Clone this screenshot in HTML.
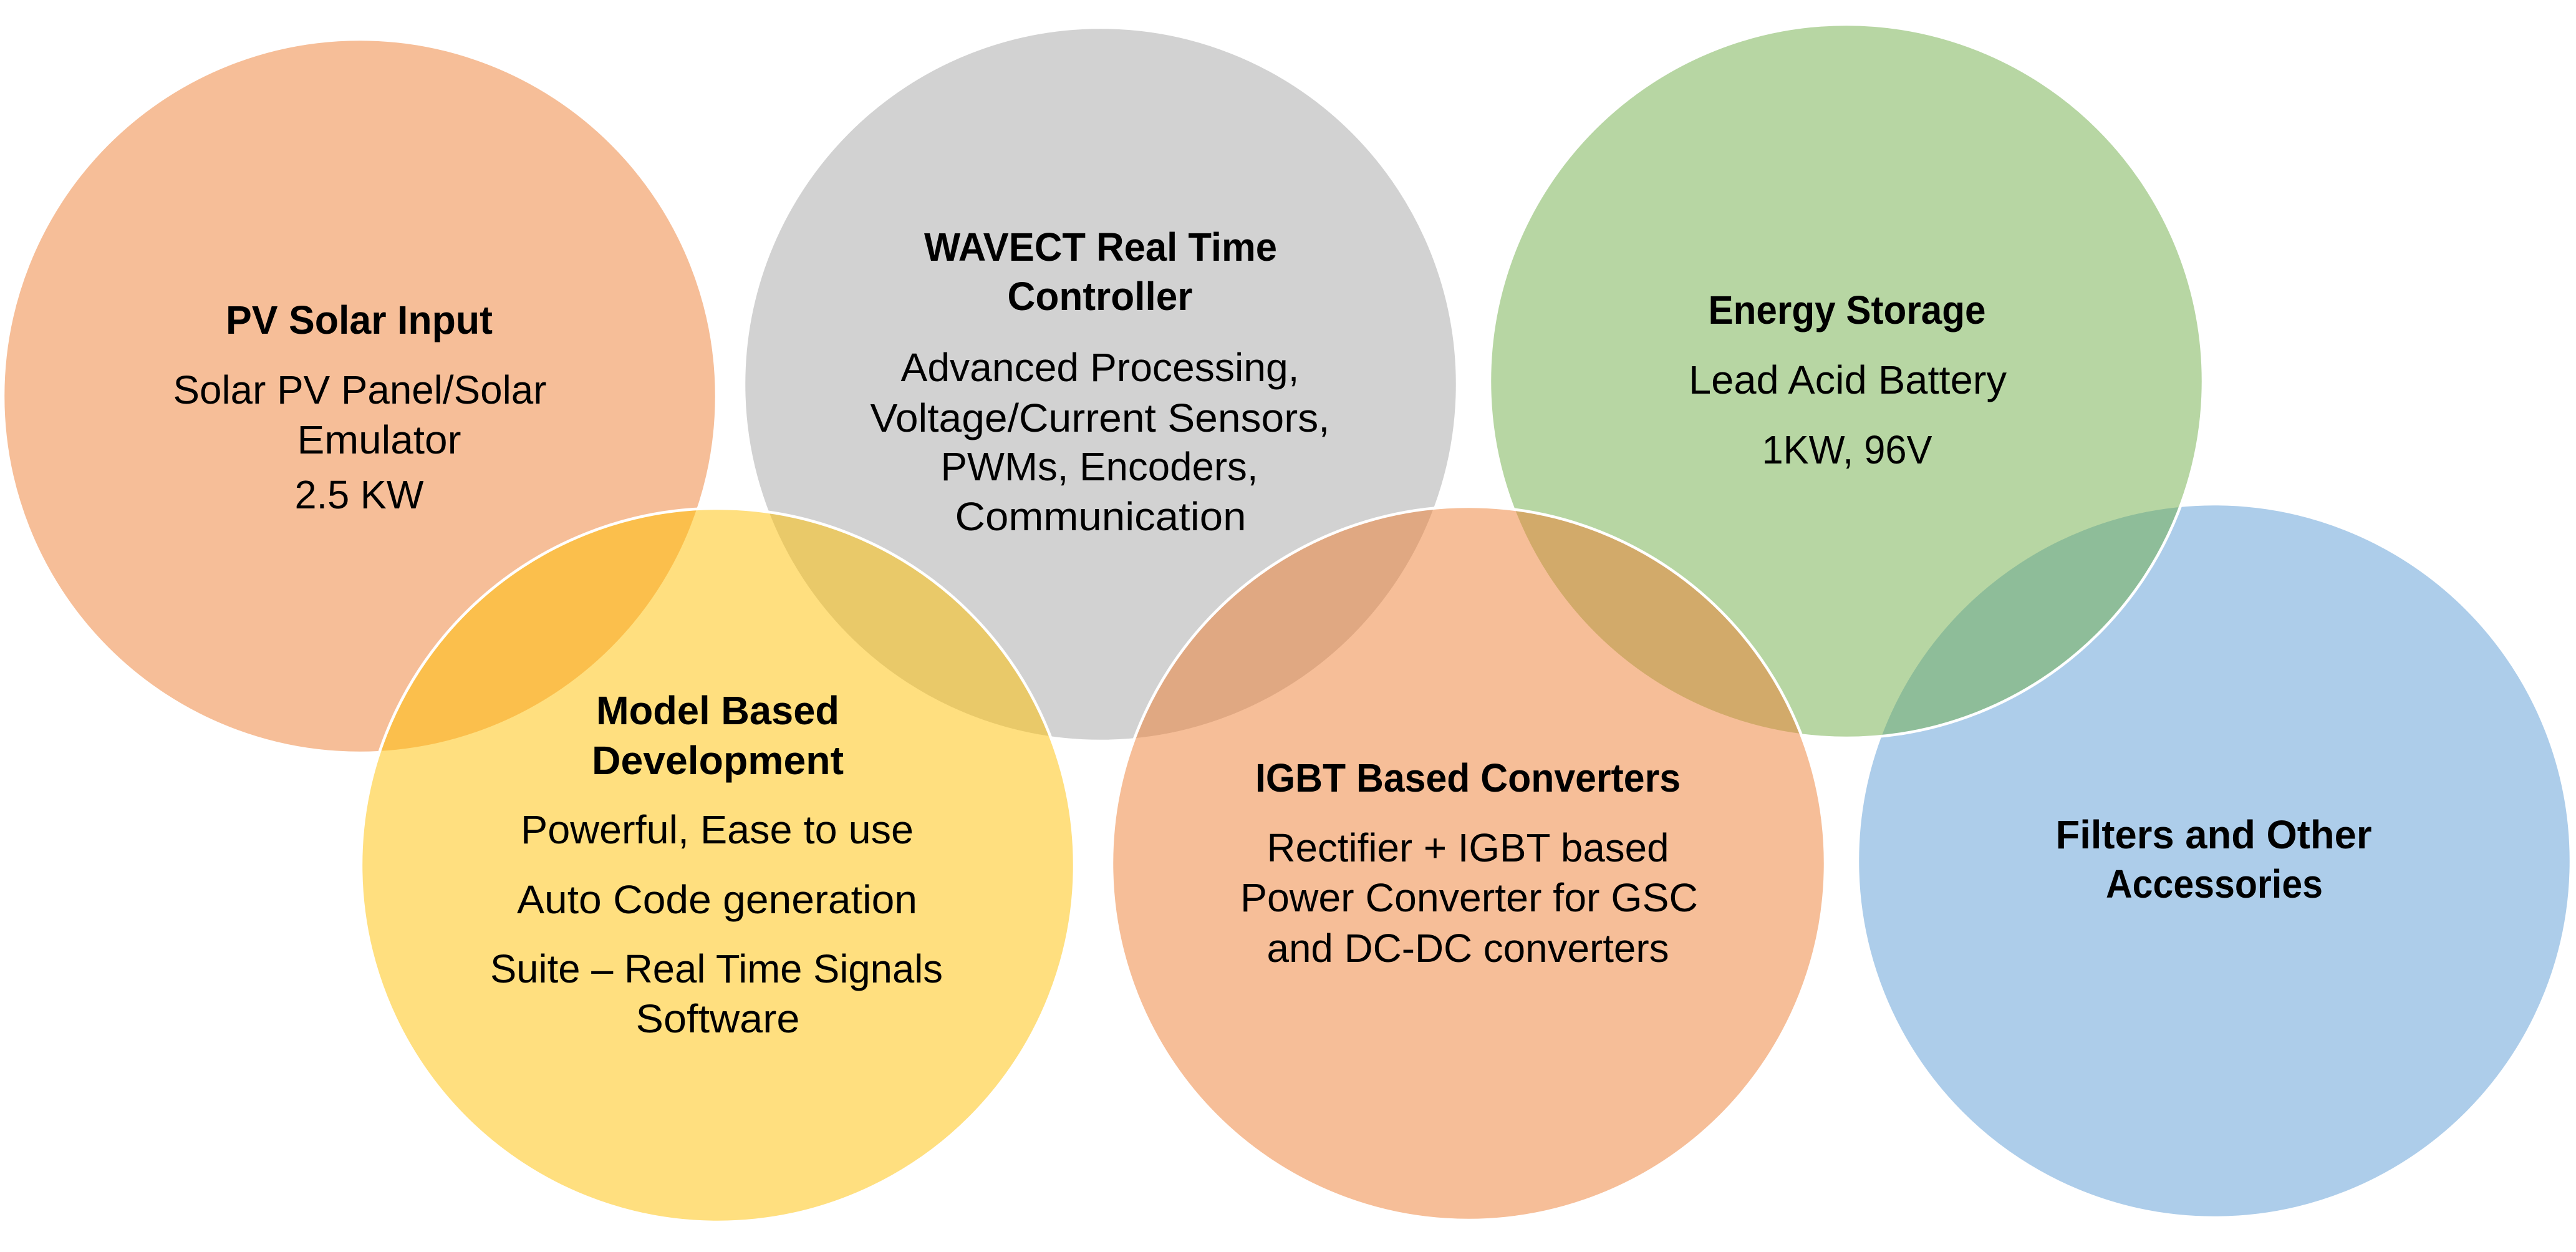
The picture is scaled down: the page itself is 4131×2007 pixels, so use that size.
<!DOCTYPE html>
<html>
<head>
<meta charset="utf-8">
<style>
  html, body { margin: 0; padding: 0; background: #ffffff; }
  svg { display: block; }
  text { font-family: "Liberation Sans", Arial, sans-serif; font-size: 64px; fill: #000000; }
  .b { font-weight: bold; }
</style>
</head>
<body>
<svg width="4131" height="2007" viewBox="0 0 4131 2007" xmlns="http://www.w3.org/2000/svg">
  <rect x="0" y="0" width="4131" height="2007" fill="#ffffff"/>
  <g stroke="#ffffff" stroke-width="4.5">
    <circle cx="3551" cy="1380" r="572" fill="#5B9BD5" fill-opacity="0.5"/>
    <circle cx="577" cy="635" r="572" fill="#ED7D31" fill-opacity="0.5"/>
    <circle cx="1765" cy="616" r="572" fill="#A5A5A5" fill-opacity="0.5"/>
    <circle cx="2961" cy="611" r="572" fill="#70AD47" fill-opacity="0.5"/>
    <circle cx="1151" cy="1387" r="572" fill="#FFC000" fill-opacity="0.5"/>
    <circle cx="2355" cy="1384" r="572" fill="#ED7D31" fill-opacity="0.5"/>
  </g>
  <g text-anchor="middle">
    <!-- PV Solar Input -->
    <text class="b" x="576" y="535" textLength="428" lengthAdjust="spacingAndGlyphs">PV Solar Input</text>
    <text x="577" y="647" textLength="599" lengthAdjust="spacingAndGlyphs">Solar PV Panel/Solar</text>
    <text x="608" y="727" textLength="263" lengthAdjust="spacingAndGlyphs">Emulator</text>
    <text x="576" y="815" textLength="207" lengthAdjust="spacingAndGlyphs">2.5 KW</text>

    <!-- WAVECT -->
    <text class="b" x="1765" y="418" textLength="566" lengthAdjust="spacingAndGlyphs">WAVECT Real Time</text>
    <text class="b" x="1764" y="497" textLength="297" lengthAdjust="spacingAndGlyphs">Controller</text>
    <text x="1764" y="611" textLength="639" lengthAdjust="spacingAndGlyphs">Advanced Processing,</text>
    <text x="1764" y="692" textLength="737" lengthAdjust="spacingAndGlyphs">Voltage/Current Sensors,</text>
    <text x="1763" y="770" textLength="509" lengthAdjust="spacingAndGlyphs">PWMs, Encoders,</text>
    <text x="1765" y="850" textLength="467" lengthAdjust="spacingAndGlyphs">Communication</text>

    <!-- Energy Storage -->
    <text class="b" x="2962" y="519" textLength="445" lengthAdjust="spacingAndGlyphs">Energy Storage</text>
    <text x="2963" y="631" textLength="510" lengthAdjust="spacingAndGlyphs">Lead Acid Battery</text>
    <text x="2962" y="743" textLength="273" lengthAdjust="spacingAndGlyphs">1KW, 96V</text>

    <!-- Model Based Development -->
    <text class="b" x="1151" y="1161" textLength="390" lengthAdjust="spacingAndGlyphs">Model Based</text>
    <text class="b" x="1151" y="1241" textLength="404" lengthAdjust="spacingAndGlyphs">Development</text>
    <text x="1150" y="1352" textLength="630" lengthAdjust="spacingAndGlyphs">Powerful, Ease to use</text>
    <text x="1150" y="1464" textLength="642" lengthAdjust="spacingAndGlyphs">Auto Code generation</text>
    <text x="1149" y="1575" textLength="726" lengthAdjust="spacingAndGlyphs">Suite – Real Time Signals</text>
    <text x="1151" y="1655" textLength="263" lengthAdjust="spacingAndGlyphs">Software</text>

    <!-- IGBT -->
    <text class="b" x="2354" y="1269" textLength="682" lengthAdjust="spacingAndGlyphs">IGBT Based Converters</text>
    <text x="2354" y="1381" textLength="645" lengthAdjust="spacingAndGlyphs">Rectifier + IGBT based</text>
    <text x="2356" y="1461" textLength="734" lengthAdjust="spacingAndGlyphs">Power Converter for GSC</text>
    <text x="2354" y="1542" textLength="645" lengthAdjust="spacingAndGlyphs">and DC-DC converters</text>

    <!-- Filters -->
    <text class="b" x="3550" y="1360" textLength="507" lengthAdjust="spacingAndGlyphs">Filters and Other</text>
    <text class="b" x="3551" y="1439" textLength="348" lengthAdjust="spacingAndGlyphs">Accessories</text>
  </g>
</svg>
</body>
</html>
